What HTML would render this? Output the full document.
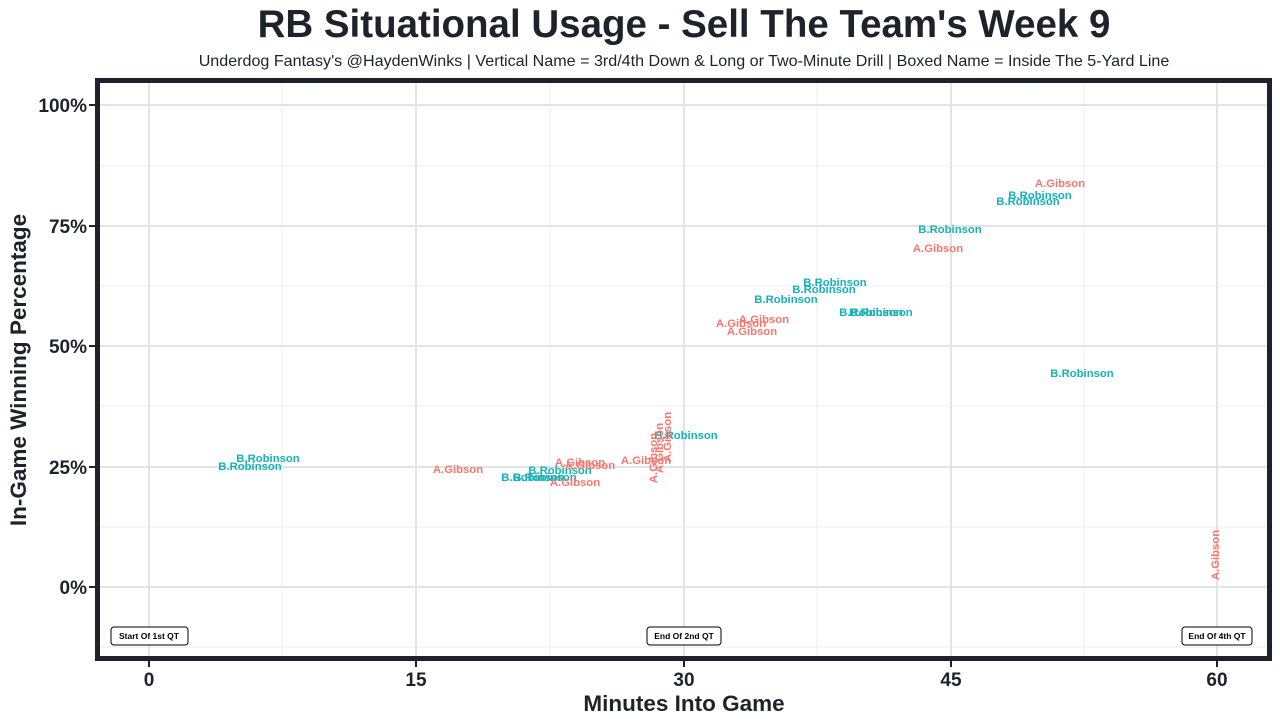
<!DOCTYPE html>
<html><head><meta charset="utf-8"><style>
body{margin:0;background:#fff;}
svg{display:block;font-family:"Liberation Sans",Arial,sans-serif;}
.r{fill:#F8766D;font-weight:bold;font-size:11.3px;}
.t{fill:#14B3B8;font-weight:bold;font-size:11.3px;}
.ax{fill:#1e222b;font-weight:bold;font-size:19px;}
</style></head><body>
<svg width="1280" height="724" viewBox="0 0 1280 724">
<rect width="1280" height="724" fill="#fff"/>
<text x="684" y="37" text-anchor="middle" font-size="38.5" font-weight="bold" fill="#1e222b">RB Situational Usage - Sell The Team's Week 9</text>
<text x="684" y="66" text-anchor="middle" font-size="16.1" fill="#1e222b">Underdog Fantasy's @HaydenWinks | Vertical Name = 3rd/4th Down &amp; Long or Two-Minute Drill | Boxed Name = Inside The 5-Yard Line</text>
<g stroke="#ececec" stroke-width="1">
<line x1="282" y1="80" x2="282" y2="658"/><line x1="550" y1="80" x2="550" y2="658"/><line x1="817" y1="80" x2="817" y2="658"/><line x1="1084" y1="80" x2="1084" y2="658"/>
<line x1="97" y1="166" x2="1270" y2="166"/><line x1="97" y1="286" x2="1270" y2="286"/><line x1="97" y1="406" x2="1270" y2="406"/><line x1="97" y1="527" x2="1270" y2="527"/><line x1="97" y1="647" x2="1270" y2="647"/>
</g>
<g stroke="#e3e3e3" stroke-width="2">
<line x1="149" y1="80" x2="149" y2="658"/><line x1="416" y1="80" x2="416" y2="658"/><line x1="684" y1="80" x2="684" y2="658"/><line x1="951" y1="80" x2="951" y2="658"/><line x1="1217" y1="80" x2="1217" y2="658"/>
<line x1="97" y1="105" x2="1270" y2="105"/><line x1="97" y1="226" x2="1270" y2="226"/><line x1="97" y1="346" x2="1270" y2="346"/><line x1="97" y1="467" x2="1270" y2="467"/><line x1="97" y1="587" x2="1270" y2="587"/>
</g>
<rect x="97.5" y="80.5" width="1172" height="578" fill="none" stroke="#1e222b" stroke-width="5"/>
<g text-anchor="middle">
<text class="t" x="268" y="462">B.Robinson</text>
<text class="t" x="250" y="470">B.Robinson</text>
<text class="r" x="458" y="473">A.Gibson</text>
<text class="t" x="560" y="474">B.Robinson</text>
<text class="t" x="545" y="481">B.Robinson</text>
<text class="t" x="533" y="481">B.Robinson</text>
<text class="r" x="580" y="466">A.Gibson</text>
<text class="r" x="590" y="469">A.Gibson</text>
<text class="r" x="575" y="486">A.Gibson</text>
<text class="r" x="646" y="464">A.Gibson</text>
<text class="t" x="686" y="439">B.Robinson</text>
<text class="r" transform="translate(657,458) rotate(-90)">A.Gibson</text>
<text class="r" transform="translate(663,448) rotate(-90)">A.Gibson</text>
<text class="r" transform="translate(671,437) rotate(-90)">A.Gibson</text>
<text class="r" x="741" y="327">A.Gibson</text>
<text class="r" x="764" y="323">A.Gibson</text>
<text class="r" x="752" y="335">A.Gibson</text>
<text class="t" x="786" y="303">B.Robinson</text>
<text class="t" x="824" y="293">B.Robinson</text>
<text class="t" x="835" y="286">B.Robinson</text>
<text class="t" x="871" y="316">B.Robinson</text>
<text class="t" x="881" y="316">B.Robinson</text>
<text class="r" x="938" y="252">A.Gibson</text>
<text class="t" x="950" y="233">B.Robinson</text>
<text class="r" x="1060" y="187">A.Gibson</text>
<text class="t" x="1040" y="199">B.Robinson</text>
<text class="t" x="1028" y="205">B.Robinson</text>
<text class="t" x="1082" y="377">B.Robinson</text>
<text class="r" transform="translate(1219,555) rotate(-90)">A.Gibson</text>
</g>
<g font-size="8.5" font-weight="bold" text-anchor="middle" fill="#000">
<rect x="111" y="627" width="77" height="18" rx="3" fill="#fff" stroke="#000"/><text x="149" y="639">Start Of 1st QT</text>
<rect x="647" y="627" width="74" height="18" rx="3" fill="#fff" stroke="#000"/><text x="684" y="639">End Of 2nd QT</text>
<rect x="1182" y="627" width="70" height="18" rx="3" fill="#fff" stroke="#000"/><text x="1217" y="639">End Of 4th QT</text>
</g>
<g stroke="#1e222b" stroke-width="2">
<line x1="149" y1="661" x2="149" y2="667"/><line x1="416" y1="661" x2="416" y2="667"/><line x1="684" y1="661" x2="684" y2="667"/><line x1="951" y1="661" x2="951" y2="667"/><line x1="1217" y1="661" x2="1217" y2="667"/>
<line x1="89" y1="105" x2="95" y2="105"/><line x1="89" y1="226" x2="95" y2="226"/><line x1="89" y1="346" x2="95" y2="346"/><line x1="89" y1="467" x2="95" y2="467"/><line x1="89" y1="587" x2="95" y2="587"/>
</g>
<g class="ax" text-anchor="middle">
<text x="149" y="686">0</text><text x="416" y="686">15</text><text x="684" y="686">30</text><text x="951" y="686">45</text><text x="1217" y="686">60</text>
</g>
<g class="ax" text-anchor="end">
<text x="87" y="112">100%</text><text x="87" y="233">75%</text><text x="87" y="353">50%</text><text x="87" y="474">25%</text><text x="87" y="594">0%</text>
</g>
<text x="684" y="711" text-anchor="middle" font-size="22.5" font-weight="bold" fill="#1e222b">Minutes Into Game</text>
<text transform="translate(26,370) rotate(-90)" text-anchor="middle" font-size="22.5" font-weight="bold" fill="#1e222b">In-Game Winning Percentage</text>
</svg>
</body></html>
